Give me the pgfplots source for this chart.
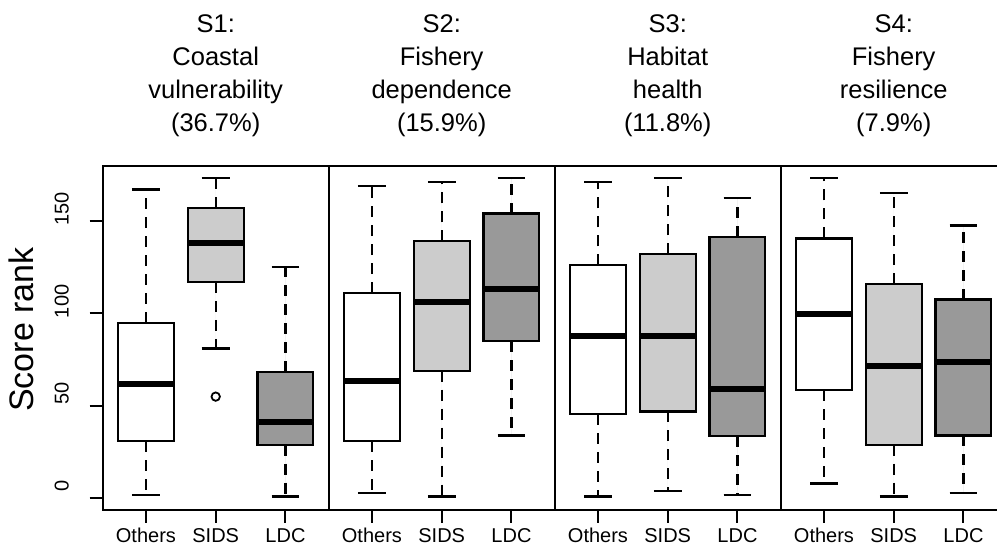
\documentclass[border=0pt]{standalone}
\usepackage{fontspec}
\setmainfont{Liberation Sans}
\usepackage{pgfplots}
\usepgfplotslibrary{statistics}
\pgfplotsset{compat=1.18}

\definecolor{grpOthers}{RGB}{255,255,255}
\definecolor{grpSIDS}{RGB}{204,204,204}
\definecolor{grpLDC}{RGB}{153,153,153}

\pgfplotsset{
  panel/.style={
    scale only axis, width=226pt, height=344pt,
    xmin=0.38, xmax=3.62, ymin=-6.3, ymax=179.7,
    axis line style={line width=2.2pt},
    xtick={1,2,3}, xticklabels={Others,SIDS,LDC},
    xticklabel style={font=\fontsize{20pt}{24pt}\selectfont, anchor=base, inner sep=0pt, yshift=-20pt},
    yticklabel style={font=\fontsize{20pt}{24pt}\selectfont, rotate=90, anchor=base, inner sep=0pt, yshift=21pt, xshift=12pt},
    /pgf/number format/assume math mode=true,
    major tick length=13pt,
    xtick pos=bottom, ytick pos=left,
    tick align=outside,
    tick style={draw=black, line width=2pt},
  },
  rbox/.style={
    boxplot/draw direction=y,
    draw=black, line width=2.2pt, fill=#1,
    boxplot/box extend=0.8,
    boxplot/whisker extend=0.4,
    boxplot/every median/.style={line width=6pt},
    mark=o, mark size=4.2pt, mark options={solid, line width=1.8pt, draw=black, fill=none},
  },
  boxplot/draw/lower whisker/.code={
    \draw[/pgfplots/boxplot/every whisker/.try, dash pattern=on 11pt off 8pt]
      (boxplot box cs:\pgfplotsboxplotvalue{lower quartile},0.5) --
      (boxplot box cs:\pgfplotsboxplotvalue{lower whisker},0.5);
    \draw[/pgfplots/boxplot/every whisker/.try, solid]
      (boxplot whisker cs:\pgfplotsboxplotvalue{lower whisker},0) --
      (boxplot whisker cs:\pgfplotsboxplotvalue{lower whisker},1);
  },
  boxplot/draw/upper whisker/.code={
    \draw[/pgfplots/boxplot/every whisker/.try, dash pattern=on 11pt off 8pt]
      (boxplot box cs:\pgfplotsboxplotvalue{upper quartile},0.5) --
      (boxplot box cs:\pgfplotsboxplotvalue{upper whisker},0.5);
    \draw[/pgfplots/boxplot/every whisker/.try, solid]
      (boxplot whisker cs:\pgfplotsboxplotvalue{upper whisker},0) --
      (boxplot whisker cs:\pgfplotsboxplotvalue{upper whisker},1);
  },
}

\newcommand{\titlefont}{\fontsize{25.5pt}{31pt}\selectfont}
% anchors for the outward group ticks of a panel
\newcommand{\groupticks}[1]{%
  \coordinate (#1-1) at (axis cs:1,-6.3);
  \coordinate (#1-2) at (axis cs:2,-6.3);
  \coordinate (#1-3) at (axis cs:3,-6.3);
}

\begin{document}
\begin{tikzpicture}

% S1: Coastal vulnerability
\begin{axis}[panel, at={(102.7pt,38pt)}, anchor=south west,
  ytick={0,50,100,150}]
  \addplot[rbox=grpOthers, boxplot prepared={draw position=1,
    lower whisker=2, lower quartile=31, median=62, upper quartile=95, upper whisker=167}]
    coordinates {};
  \addplot[rbox=grpSIDS, boxplot prepared={draw position=2,
    lower whisker=81, lower quartile=117, median=138, upper quartile=157, upper whisker=173}]
    table[row sep=\\, y index=0] {55\\};
  \addplot[rbox=grpLDC, boxplot prepared={draw position=3,
    lower whisker=1, lower quartile=29, median=41.5, upper quartile=68.5, upper whisker=125}]
    coordinates {};
  \groupticks{pA}
  \coordinate (yA-0) at (axis cs:0.38,0);
  \coordinate (yA-50) at (axis cs:0.38,50);
  \coordinate (yA-100) at (axis cs:0.38,100);
  \coordinate (yA-150) at (axis cs:0.38,150);
\end{axis}

% S2: Fishery dependence
\begin{axis}[panel, at={(328.7pt,38pt)}, anchor=south west, ytick=\empty]
  \addplot[rbox=grpOthers, boxplot prepared={draw position=1,
    lower whisker=3, lower quartile=31, median=63.5, upper quartile=111, upper whisker=169}]
    coordinates {};
  \addplot[rbox=grpSIDS, boxplot prepared={draw position=2,
    lower whisker=1, lower quartile=69, median=106, upper quartile=139, upper whisker=171}]
    coordinates {};
  \addplot[rbox=grpLDC, boxplot prepared={draw position=3,
    lower whisker=34, lower quartile=85, median=113, upper quartile=154, upper whisker=173}]
    coordinates {};
  \groupticks{pB}
\end{axis}

% S3: Habitat health
\begin{axis}[panel, at={(554.7pt,38pt)}, anchor=south west, ytick=\empty]
  \addplot[rbox=grpOthers, boxplot prepared={draw position=1,
    lower whisker=1, lower quartile=45.5, median=88, upper quartile=126, upper whisker=171}]
    coordinates {};
  \addplot[rbox=grpSIDS, boxplot prepared={draw position=2,
    lower whisker=4, lower quartile=47, median=88, upper quartile=132, upper whisker=173}]
    coordinates {};
  \addplot[rbox=grpLDC, boxplot prepared={draw position=3,
    lower whisker=2, lower quartile=33.5, median=59, upper quartile=141.5, upper whisker=162.5}]
    coordinates {};
  \groupticks{pC}
\end{axis}

% S4: Fishery resilience
\begin{axis}[panel, at={(780.7pt,38pt)}, anchor=south west, ytick=\empty]
  \addplot[rbox=grpOthers, boxplot prepared={draw position=1,
    lower whisker=8, lower quartile=58.5, median=99.5, upper quartile=140.5, upper whisker=173}]
    coordinates {};
  \addplot[rbox=grpSIDS, boxplot prepared={draw position=2,
    lower whisker=1, lower quartile=29, median=71.5, upper quartile=116, upper whisker=165}]
    coordinates {};
  \addplot[rbox=grpLDC, boxplot prepared={draw position=3,
    lower whisker=3, lower quartile=34, median=73.5, upper quartile=107.5, upper whisker=147.5}]
    coordinates {};
  \groupticks{pD}
\end{axis}

% outward tick marks
\foreach \p in {pA,pB,pC,pD}{
  \foreach \k in {1,2,3}{
    \draw[black, line width=2pt] (\p-\k) -- ++(0pt,-13pt);
  }
}
\foreach \v in {0,50,100,150}{
  \draw[black, line width=2pt] (yA-\v) -- ++(-13pt,0pt);
}

% y-axis title
\node[rotate=90, font=\fontsize{34pt}{40pt}\selectfont, inner sep=0pt] at (21pt,218.5pt) {Score rank};

% panel titles
\foreach \cx/\la/\lb/\lc/\ld in {
  215.7/S1:/Coastal/vulnerability/(36.7\%),
  441.7/S2:/Fishery/dependence/(15.9\%),
  667.7/S3:/Habitat/health/(11.8\%),
  893.7/S4:/Fishery/resilience/(7.9\%)}{
  \node[anchor=base, font=\titlefont, inner sep=0pt] at (\cx pt,515pt) {\la};
  \node[anchor=base, font=\titlefont, inner sep=0pt] at (\cx pt,482.3pt) {\lb};
  \node[anchor=base, font=\titlefont, inner sep=0pt] at (\cx pt,449.6pt) {\lc};
  \node[anchor=base, font=\titlefont, inner sep=0pt] at (\cx pt,416.9pt) {\ld};
}

\pgfresetboundingbox
\useasboundingbox (0pt,0pt) rectangle (997pt,548pt);
\end{tikzpicture}
\end{document}
